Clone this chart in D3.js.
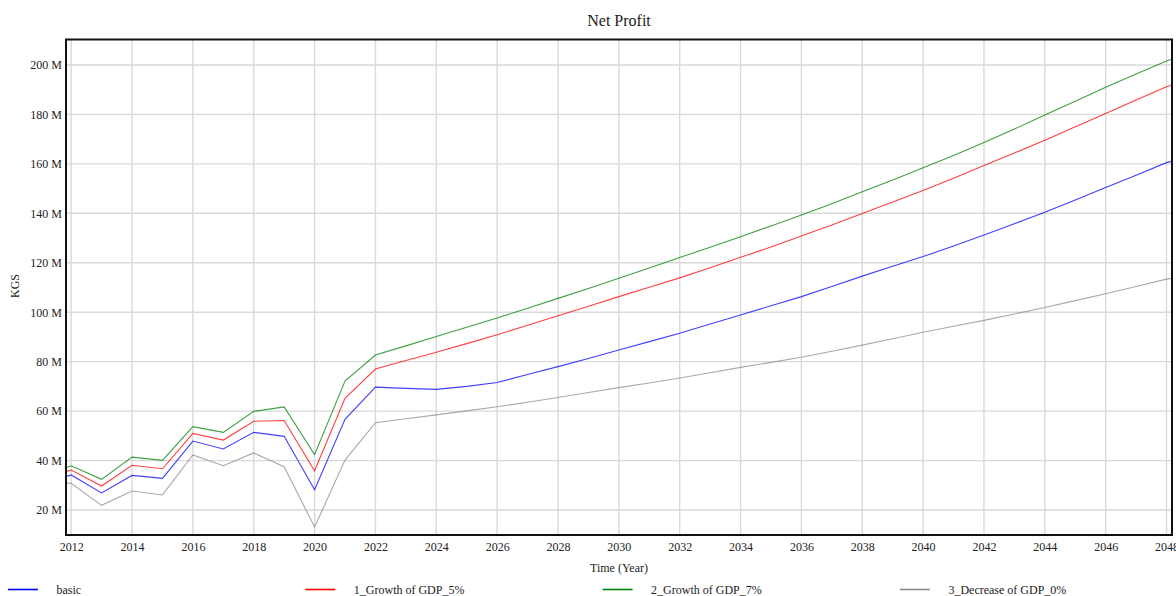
<!DOCTYPE html>
<html>
<head>
<meta charset="utf-8">
<script src="https://cdn.jsdelivr.net/npm/d3@7/dist/d3.min.js"></script>
<style>
  html, body { margin: 0; padding: 0; background: #fff; }
  svg { display: block; font-family: "Times New Roman", "Liberation Serif", serif; }
</style>
</head>
<body>
<svg id="chart" width="1176" height="596"></svg>
<script>
// Simulation time points (years); the run spans slightly past the labelled years.
const years = [2011.83, 2012, 2013, 2014, 2015, 2016, 2017, 2018, 2019, 2020, 2021, 2022,
  2023, 2024, 2025, 2026, 2027, 2028, 2029, 2030, 2031, 2032, 2033, 2034, 2035, 2036,
  2037, 2038, 2039, 2040, 2041, 2042, 2043, 2044, 2045, 2046, 2047, 2048, 2048.18];

// Net profit by scenario, millions of KGS
const basic = [33.5, 34.2, 26.9, 34.0, 32.8, 47.9, 44.7, 51.4, 49.8, 28.2, 56.7, 69.7,
  69.2, 68.8, 70.0, 71.6, 74.8, 78.0, 81.3, 84.7, 88.1, 91.5, 95.2, 98.9, 102.6, 106.3,
  110.4, 114.6, 118.6, 122.5, 126.8, 131.2, 135.8, 140.4, 145.4, 150.4, 155.4, 160.5, 161.1];
const growth5 = [35.5, 36.2, 29.7, 38.1, 36.7, 51.0, 48.3, 55.9, 56.2, 35.9, 65.2, 77.0,
  80.5, 83.8, 87.3, 90.9, 94.7, 98.6, 102.4, 106.3, 110.1, 113.9, 118.0, 122.2, 126.4, 130.8,
  135.3, 139.9, 144.6, 149.2, 154.2, 159.3, 164.4, 169.6, 175.0, 180.4, 185.8, 191.2, 191.9];
const growth7 = [37.1, 37.9, 32.4, 41.4, 40.1, 53.7, 51.4, 59.9, 61.7, 42.4, 72.2, 82.7,
  86.4, 90.2, 93.9, 97.7, 101.6, 105.6, 109.6, 113.7, 117.9, 122.1, 126.3, 130.5, 134.9, 139.3,
  143.9, 148.7, 153.5, 158.4, 163.4, 168.6, 174.1, 179.8, 185.3, 191.0, 196.3, 201.6, 202.3];
const decrease0 = [31.0, 30.8, 21.9, 27.7, 26.1, 42.3, 37.9, 43.1, 37.5, 13.1, 40.2, 55.3,
  56.9, 58.5, 60.1, 61.8, 63.6, 65.5, 67.5, 69.5, 71.4, 73.4, 75.5, 77.7, 79.7, 81.8,
  84.2, 86.7, 89.3, 91.9, 94.3, 96.7, 99.3, 101.9, 104.7, 107.5, 110.4, 113.4, 113.8];

const seriesNames = ["basic", "1_Growth of GDP_5%", "2_Growth of GDP_7%", "3_Decrease of GDP_0%"];
const seriesColors = ["#0000ff", "#ff0000", "#008000", "#8c8c8c"];
const seriesValues = [basic, growth5, growth7, decrease0];

const xTicks = d3.range(2012, 2049, 2);
const yTicks = [20, 40, 60, 80, 100, 120, 140, 160, 180, 200];
const yTickLabel = v => v + " M";

const chartTitle = "Net Profit";
const xTitle = "Time (Year)";
const yTitle = "KGS";

const svg = d3.select("#chart");
const plot = { left: 66, right: 1172, top: 39.5, bottom: 535 };

const x = d3.scaleLinear().domain([2011.83, 2048.18]).range([plot.left, plot.right]);
const y = d3.scaleLinear().domain([9.9, 210.3]).range([plot.bottom, plot.top]);

// grid
const grid = svg.append("g").attr("stroke", "#d9d9d9").attr("stroke-width", 1.4);
grid.selectAll("line.v").data(xTicks).join("line")
  .attr("x1", d => x(d)).attr("x2", d => x(d))
  .attr("y1", plot.top).attr("y2", plot.bottom);
grid.selectAll("line.h").data(yTicks).join("line")
  .attr("x1", plot.left).attr("x2", plot.right)
  .attr("y1", d => y(d)).attr("y2", d => y(d));

// axes (labels only; the frame is drawn separately)
const xAxis = svg.append("g").attr("transform", `translate(0,${plot.bottom})`)
  .call(d3.axisBottom(x).tickValues(xTicks).tickFormat(d3.format("d")).tickSize(0).tickPadding(7));
const yAxis = svg.append("g").attr("transform", `translate(${plot.left},0)`)
  .call(d3.axisLeft(y).tickValues(yTicks).tickFormat(yTickLabel).tickSize(0).tickPadding(4));
[xAxis, yAxis].forEach(a => {
  a.select(".domain").remove();
  a.selectAll("text").attr("font-family", "'Times New Roman', 'Liberation Serif', serif")
    .attr("font-size", 12).attr("fill", "#222");
});

// series lines
const clip = svg.append("clipPath").attr("id", "plotClip").append("rect")
  .attr("x", plot.left).attr("y", plot.top)
  .attr("width", plot.right - plot.left).attr("height", plot.bottom - plot.top);
const line = d3.line().x((d, i) => x(years[i])).y(d => y(d));
svg.append("g").attr("clip-path", "url(#plotClip)")
  .selectAll("path").data(seriesValues).join("path")
  .attr("d", d => line(d))
  .attr("fill", "none")
  .attr("stroke", (d, i) => seriesColors[i])
  .attr("stroke-opacity", 0.75)
  .attr("stroke-width", 1.1);

// frame
svg.append("rect")
  .attr("x", plot.left).attr("y", plot.top)
  .attr("width", plot.right - plot.left).attr("height", plot.bottom - plot.top)
  .attr("fill", "none").attr("stroke", "#111").attr("stroke-width", 2);

// titles
svg.append("text").attr("x", (plot.left + plot.right) / 2).attr("y", 26)
  .attr("text-anchor", "middle").attr("font-size", 16).attr("fill", "#222").text(chartTitle);
svg.append("text").attr("x", (plot.left + plot.right) / 2).attr("y", 572)
  .attr("text-anchor", "middle").attr("font-size", 12).attr("fill", "#222").text(xTitle);
svg.append("text").attr("transform", "translate(19,286) rotate(-90)")
  .attr("text-anchor", "middle").attr("font-size", 12).attr("fill", "#222").text(yTitle);

// legend
const legend = svg.append("g").selectAll("g").data(seriesNames).join("g")
  .attr("transform", (d, i) => `translate(${8 + i * 297.3},589.5)`);
legend.append("line").attr("x1", 0).attr("x2", 30).attr("y1", 0).attr("y2", 0)
  .attr("stroke", (d, i) => seriesColors[i]).attr("stroke-width", 1.6);
legend.append("text").attr("x", 48.5).attr("y", 4)
  .attr("font-size", 12).attr("fill", "#222").text(d => d);
</script>
</body>
</html>
